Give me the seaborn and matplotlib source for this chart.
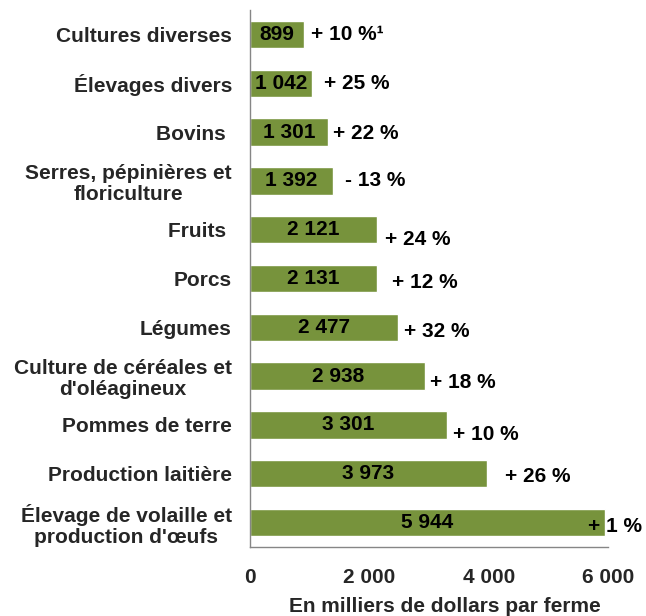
import matplotlib
matplotlib.use("Agg")
import matplotlib.pyplot as plt
import seaborn as sns
import pandas as pd
import numpy as np

categories = [
    "Cultures diverses",
    "Élevages divers",
    "Bovins ",
    "Serres, pépinières et\nfloriculture",
    "Fruits ",
    "Porcs",
    "Légumes",
    "Culture de céréales et\nd'oléagineux",
    "Pommes de terre",
    "Production laitière",
    "Élevage de volaille et\nproduction d'œufs",
]
values = [899, 1042, 1301, 1392, 2121, 2131, 2477, 2938, 3301, 3973, 5944]
changes = ["+ 10 %¹", "+ 25 %", "+ 22 %", "- 13 %", "+ 24 %", "+ 12 %",
           "+ 32 %", "+ 18 %", "+ 10 %", "+ 26 %", "+ 1 %"]
xticks = [0, 2000, 4000, 6000]

# label offsets in pixels (dx from bar end, dy downward)
label_dx = [7, 12, 5, 12, 8, 15, 6, 5, 6, 18, -17]
label_dy = [0, 0, 1, 0, 10, 4, 4, 6, 10, 3, 4]

df = pd.DataFrame({"cat": categories, "val": values})

sns.set_style("white")
plt.rcParams["font.family"] = ["Liberation Sans", "DejaVu Sans"]
plt.rcParams["font.weight"] = "bold"
FS = 15

fig = plt.figure(figsize=(6.46, 6.16), dpi=100)
ax = fig.add_axes([250 / 646, 1 - 547 / 616, 358 / 646, 537 / 616])

sns.barplot(data=df, y="cat", x="val", orient="h", color="#77933C",
            width=0.56, saturation=1, ax=ax)

def fmt(v):
    return f"{v:,}".replace(",", " ")

ax.bar_label(ax.containers[0], labels=[fmt(v) for v in values],
             label_type="center", fontsize=FS, fontweight="bold", color="black")

for i, (v, c) in enumerate(zip(values, changes)):
    ax.annotate(c, xy=(v, i), xytext=(label_dx[i] * 0.72, -label_dy[i] * 0.72),
                textcoords="offset points", ha="left", va="center",
                fontsize=FS, fontweight="bold", color="black")

ax.set_xlim(0, 6000)
ax.set_ylim(len(categories) - 0.5, -0.5)
ax.set_xticks(xticks)
ax.set_xticklabels([fmt(t) for t in xticks], fontsize=FS, fontweight="bold")
ax.set_yticks(range(len(categories)))
ax.set_yticklabels(categories, fontsize=FS, fontweight="bold", ha="right",
                   multialignment="center", linespacing=1.15)
ax.set_yticks(np.arange(-0.5, len(categories), 1), minor=True)
ax.tick_params(axis="y", which="major", length=0, pad=13)
ax.tick_params(axis="y", which="minor", length=5, color="#868686", direction="out")
ax.tick_params(axis="x", which="major", length=5, color="#868686", direction="out",
               pad=10)
ax.set_xlabel("En milliers de dollars par ferme", fontsize=FS, fontweight="bold")
ax.xaxis.set_label_coords(0.545, -0.094)
ax.set_ylabel("")

for s in ["top", "right"]:
    ax.spines[s].set_visible(False)
for s in ["left", "bottom"]:
    ax.spines[s].set_color("#868686")
    ax.spines[s].set_linewidth(1)

fig.savefig("out.png", dpi=100)
